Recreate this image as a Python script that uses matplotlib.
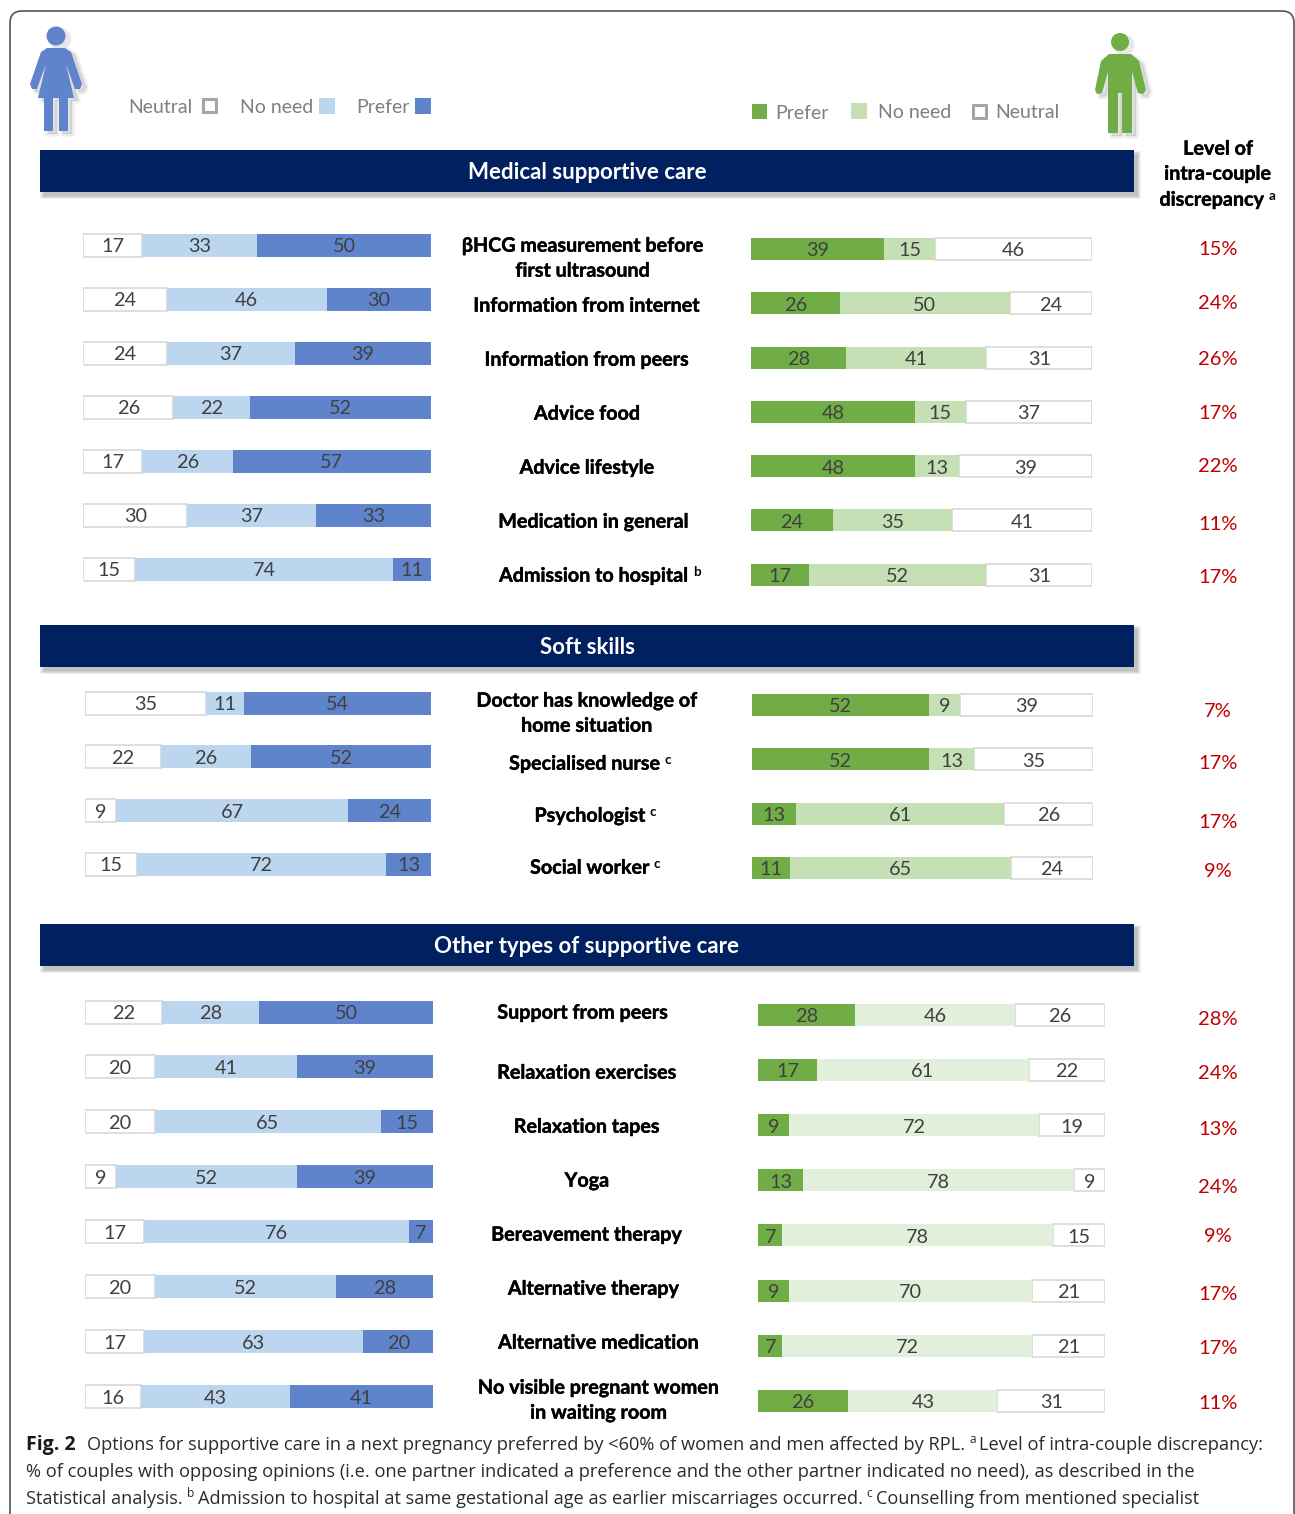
import matplotlib
matplotlib.use("Agg")
import matplotlib.pyplot as plt
import matplotlib.patheffects as pe
from matplotlib.patches import Rectangle, Circle, Polygon, FancyBboxPatch

W, H = 1295, 1514

# data, top to bottom. text after | is the superscript mark
medical = ["βHCG measurement before\nfirst ultrasound", "Information from internet", "Information from peers",
           "Advice food", "Advice lifestyle", "Medication in general", "Admission to hospital|b"]
medical_w_neutral = [17, 24, 24, 26, 17, 30, 15]
medical_w_noneed = [33, 46, 37, 22, 26, 37, 74]
medical_w_prefer = [50, 30, 39, 52, 57, 33, 11]
medical_m_prefer = [39, 26, 28, 48, 48, 24, 17]
medical_m_noneed = [15, 50, 41, 15, 13, 35, 52]
medical_m_neutral = [46, 24, 31, 37, 39, 41, 31]
medical_gap = ["15%", "24%", "26%", "17%", "22%", "11%", "17%"]

soft = ["Doctor has knowledge of\nhome situation", "Specialised nurse|c", "Psychologist|c", "Social worker|c"]
soft_w_neutral = [35, 22, 9, 15]
soft_w_noneed = [11, 26, 67, 72]
soft_w_prefer = [54, 52, 24, 13]
soft_m_prefer = [52, 52, 13, 11]
soft_m_noneed = [9, 13, 61, 65]
soft_m_neutral = [39, 35, 26, 24]
soft_gap = ["7%", "17%", "17%", "9%"]

other = ["Support from peers", "Relaxation exercises", "Relaxation tapes", "Yoga", "Bereavement therapy",
         "Alternative therapy", "Alternative medication", "No visible pregnant women\nin waiting room"]
other_w_neutral = [22, 20, 20, 9, 17, 20, 17, 16]
other_w_noneed = [28, 41, 65, 52, 76, 52, 63, 43]
other_w_prefer = [50, 39, 15, 39, 7, 28, 20, 41]
other_m_prefer = [28, 17, 9, 13, 7, 9, 7, 26]
other_m_noneed = [46, 61, 72, 78, 78, 70, 72, 43]
other_m_neutral = [26, 22, 19, 9, 15, 21, 21, 31]
other_gap = ["28%", "24%", "13%", "24%", "9%", "17%", "17%", "11%"]

# colours
NAVY = "#002060"
W_DARK, W_LIGHT = "#5F84CC", "#BBD6EE"
M_DARK, M_LIGHT, M_PALE = "#70AD47", "#C5E0B4", "#E2EFDA"
BOX = "#DEDEDE"
NUM = "#404040"
GREY = "#7F7F7F"
RED = "#C00000"
CAP_INK = "#2B2B2B"

plt.rcParams["font.family"] = ["Lato", "Noto Sans", "DejaVu Sans"]
CAP = ["Open Sans", "Noto Sans", "DejaVu Sans"]
THICK = [pe.withStroke(linewidth=0.3, foreground="black")]

fig = plt.figure(figsize=(W / 100, H / 100), dpi=100)

# whole page axes in pixels, for everything that is not a bar
bg = fig.add_axes([0, 0, 1, 1])
bg.set_xlim(0, W)
bg.set_ylim(H, 0)
bg.axis("off")


def put(x, y, s, **kw):
    # va center sits a bit high with these fonts
    kw.setdefault("va", "center")
    return bg.text(x, y + 1.7, s, **kw)


def run_line(x, y, parts, size, ink, family):
    # parts of a line side by side, part starting with ^ is a raised small letter
    rend = fig.canvas.get_renderer()
    for s in parts:
        if s.startswith("^"):
            t = put(x + 4, y - 5, s[1:], fontsize=size * 0.66, color=ink, family=family, ha="left")
            x = t.get_window_extent(rend).x1 + 3.5
        else:
            t = put(x, y, s, fontsize=size, color=ink, family=family, ha="left")
            x = t.get_window_extent(rend).x1


def soft_shadow(x0, y0, x1, y1, dx=3.5, dy=4):
    for k in (4, 3, 2, 1, 0):
        bg.add_patch(Rectangle((x0 + dx - k * 0.8, y0 + dy - k * 0.8), x1 - x0 + k * 1.6, y1 - y0 + k * 1.6,
                               fc="black", ec="none", alpha=0.05))


def icon_shadow(pts, head, r):
    for k in range(4, 0, -1):
        bg.add_patch(Polygon([(a + 4, b + 3) for a, b in pts], closed=True, fc="black", ec="black",
                             lw=k * 1.2, alpha=0.025, joinstyle="round"))
        bg.add_patch(Circle((head[0] + 4, head[1] + 3), r + k * 0.6, fc="black", ec="none", alpha=0.025))


# page frame, it runs off the picture at right and bottom
bg.add_patch(FancyBboxPatch((10, 11), 1284, 1560, boxstyle="round,pad=0,rounding_size=12",
                            fc="white", ec="#555555", lw=1.2))

# woman
woman = [(47, 48), (65, 48), (71, 52), (82, 84), (80, 89), (75, 89), (66, 64), (74, 98), (68, 98), (68, 131),
         (59, 131), (59, 98), (53, 98), (53, 131), (44, 131), (44, 98), (38, 98), (46, 64), (37, 89), (32, 89),
         (30, 84), (41, 52)]
icon_shadow(woman, (56, 36), 9.5)
bg.add_patch(Polygon(woman, closed=True, fc=W_DARK, ec="none"))
bg.add_patch(Circle((56, 36), 9.5, fc=W_DARK, ec="none"))

# man
man = [(1109, 54), (1131, 54), (1139, 61), (1146, 90), (1143, 94), (1138, 93), (1132, 72), (1132, 133), (1122, 133),
       (1122, 93), (1118, 93), (1118, 133), (1108, 133), (1108, 72), (1102, 93), (1097, 94), (1095, 90), (1101, 61)]
icon_shadow(man, (1120, 42), 9)
bg.add_patch(Polygon(man, closed=True, fc=M_DARK, ec="none"))
bg.add_patch(Circle((1120, 42), 9, fc=M_DARK, ec="none"))


def legend_box(x0, y0, size, color, neutral=False):
    if neutral:
        bg.add_patch(Rectangle((x0 + 1, y0 + 1), size - 2, size - 2, fc="white", ec="#A6A6A6", lw=2.2))
    else:
        bg.add_patch(Rectangle((x0, y0), size, size, fc=color, ec="none"))


def legend_text(x, y, s, ha="left"):
    put(x, y, s, color=GREY, fontsize=14, ha=ha)


legend_text(193, 106, "Neutral", ha="right")
legend_box(202, 98, 15, "", neutral=True)
legend_text(240, 106, "No need")
legend_box(319, 98, 16, W_LIGHT)
legend_text(356, 106, "Prefer")
legend_box(415, 98, 16, W_DARK)

legend_box(752, 104, 15, M_DARK)
legend_text(775, 112, "Prefer")
legend_box(851, 103, 16, M_LIGHT)
legend_text(878, 111, "No need")
legend_box(972, 104, 15, "", neutral=True)
legend_text(995, 111, "Neutral")


def bold_label(x, y, s, size=14.2):
    # label with an optional raised letter behind it
    rend = fig.canvas.get_renderer()
    base, _, mark = s.partition("|")
    t = put(x, y - 1, base, fontsize=size, fontweight="bold", ha="center", color="black", path_effects=THICK)
    if mark:
        box = t.get_window_extent(rend)
        put(box.x1 + 4, y - 5, mark, fontsize=size * 0.68, fontweight="bold", ha="left", color="black")


bold_label(1218, 148, "Level of")
bold_label(1218, 173, "intra-couple")
bold_label(1212, 199, "discrepancy|a")

# section banners
for title, y0 in [("Medical supportive care", 150), ("Soft skills", 625), ("Other types of supportive care", 924)]:
    soft_shadow(40, y0, 1134, y0 + 42)
    bg.add_patch(Rectangle((40, y0), 1094, 42, fc=NAVY, ec="none"))
    put(587, y0 + 20.5, title, color="white", fontsize=16, fontweight="bold", ha="center")


def stacked(x0, x1, first_y, step, bar_px, series, colors):
    # one axes per block, x is the 0-100 share, rows are category slots
    n = len(series[0])
    top = first_y - step / 2
    ax = fig.add_axes([x0 / W, 1 - (top + n * step) / H, (x1 - x0) / W, n * step / H])
    ax.patch.set_alpha(0)
    ax.set_xlim(0, 100)
    ax.set_ylim(n - 0.5, -0.5)
    ax.axis("off")
    rows = list(range(n))
    left = [0] * n
    for vals, col in zip(series, colors):
        edge = BOX if col == "white" else "none"
        bars = ax.barh(rows, vals, left=left, height=bar_px / step, color=col, edgecolor=edge,
                       linewidth=1.4 if col == "white" else 0, zorder=3 if col != "white" else 2)
        labels = ax.bar_label(bars, labels=[str(v) for v in vals], label_type="center", color=NUM, fontsize=14.3,
                              zorder=5)
        for t in labels:
            t.xyann = (0, -1.3)
        left = [a + b for a, b in zip(left, vals)]
    return ax


w_cols = ["white", W_LIGHT, W_DARK]
stacked(83, 431, 245, 54.0, 23, [medical_w_neutral, medical_w_noneed, medical_w_prefer], w_cols)
stacked(751, 1092, 249, 54.3, 22, [medical_m_prefer, medical_m_noneed, medical_m_neutral], [M_DARK, M_LIGHT, "white"])
stacked(85, 431, 703, 53.7, 23, [soft_w_neutral, soft_w_noneed, soft_w_prefer], w_cols)
stacked(752, 1093, 705, 54.3, 22, [soft_m_prefer, soft_m_noneed, soft_m_neutral], [M_DARK, M_LIGHT, "white"])
stacked(85, 433, 1012, 54.9, 23, [other_w_neutral, other_w_noneed, other_w_prefer], w_cols)
stacked(758, 1105, 1015, 55.1, 22, [other_m_prefer, other_m_noneed, other_m_neutral], [M_DARK, M_PALE, "white"])

# row labels and discrepancy column
medical_at = [(583, 245), (587, 305), (587, 359), (587, 413), (587, 467), (594, 521), (594, 575)]
soft_at = [(587, 700), (585, 763), (590, 815), (590, 867)]
other_at = [(583, 1012), (587, 1072), (587, 1126), (587, 1180), (587, 1234), (594, 1288), (599, 1342), (599, 1387)]
medical_gap_y = [248, 302, 358, 412, 465, 523, 576]
soft_gap_y = [710, 762, 821, 870]
other_gap_y = [1018, 1072, 1128, 1186, 1235, 1293, 1347, 1402]

for names, spots, gaps, gap_y in [(medical, medical_at, medical_gap, medical_gap_y),
                                  (soft, soft_at, soft_gap, soft_gap_y),
                                  (other, other_at, other_gap, other_gap_y)]:
    for name, (x, y), gap, gy in zip(names, spots, gaps, gap_y):
        for j, part in enumerate(name.split("\n")):
            bold_label(x, y + j * 25, part)
        put(1218, gy, gap, color=RED, fontsize=14.5, ha="center")

# caption
put(26, 1443, "Fig. 2", fontsize=14, fontweight="bold", family=CAP, color="#1A1A1A")
run_line(87, 1443, ["Options for supportive care in a next pregnancy preferred by <60% of women and men affected by RPL.",
                    "^a", "Level of intra-couple discrepancy:"], 13.15, CAP_INK, CAP)
run_line(26, 1470, ["% of couples with opposing opinions (i.e. one partner indicated a preference and the other partner "
                    "indicated no need), as described in the"], 13.15, CAP_INK, CAP)
run_line(26, 1497, ["Statistical analysis.", "^b", "Admission to hospital at same gestational age as earlier "
                    "miscarriages occurred.", "^c", "Counselling from mentioned specialist"], 13.05, CAP_INK, CAP)

fig.savefig("out.png", dpi=100)
